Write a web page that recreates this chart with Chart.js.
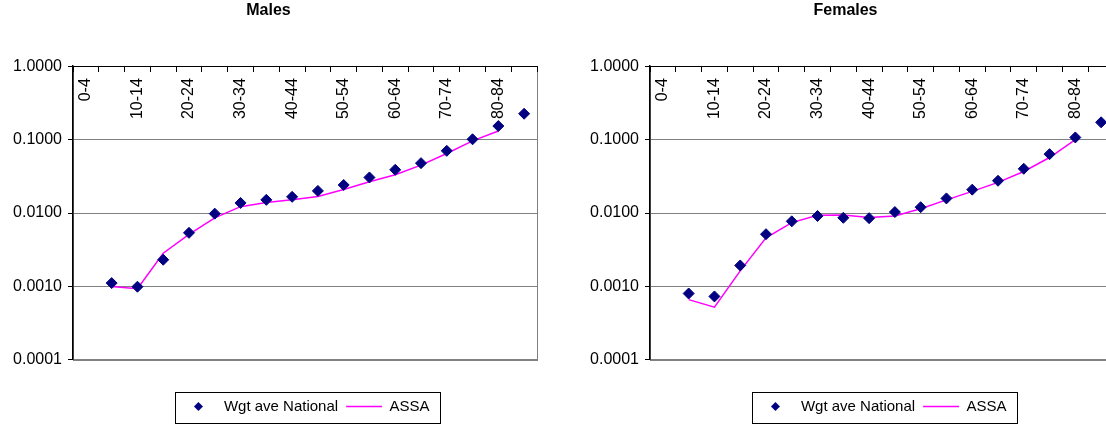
<!DOCTYPE html>
<html>
<head>
<meta charset="utf-8">
<script src="https://cdn.jsdelivr.net/npm/chart.js@4.4.1/dist/chart.umd.min.js"></script>
<style>
html,body{margin:0;padding:0;background:#fff;overflow:hidden;width:1106px;height:427px;}
.box{position:absolute;top:0;width:545px;height:427px;}
#leftBox{left:0;}
#rightBox{left:577px;}
</style>
</head>
<body>
<div class="box" id="leftBox"><canvas id="malesChart" width="545" height="427"></canvas></div>
<div class="box" id="rightBox"><canvas id="femalesChart" width="545" height="427"></canvas></div>
<script>
const ages = ["0-4","5-9","10-14","15-19","20-24","25-29","30-34","35-39","40-44","45-49","50-54","55-59","60-64","65-69","70-74","75-79","80-84","85+"];
const yTicks = [0.0001,0.001,0.01,0.1,1];

const maleNational = [null,0.00111,0.00099,0.00231,0.00537,0.0098,0.0137,0.0151,0.0166,0.0200,0.0241,0.0305,0.0388,0.0478,0.0703,0.101,0.153,0.225];
const maleASSA = [null,0.00100,0.00093,0.00283,0.0051,0.0086,0.0122,0.0139,0.0151,0.0168,0.0209,0.0266,0.0332,0.0449,0.0646,0.096,0.131,null];

const femaleNational = [null,0.00080,0.00073,0.00193,0.00514,0.0077,0.0091,0.0086,0.0085,0.0103,0.0120,0.0158,0.0208,0.0275,0.040,0.0634,0.107,0.172];
const femaleASSA = [null,0.00066,0.00052,0.00163,0.00458,0.0074,0.0093,0.0094,0.0087,0.0091,0.0114,0.0151,0.0197,0.0261,0.0368,0.057,0.100,null];

const FONT = "'Liberation Sans', Arial, sans-serif";

// little diamond used as the legend symbol
function diamondIcon(size,color){
const c = document.createElement("canvas");
c.width = size; c.height = size;
const g = c.getContext("2d");
g.fillStyle = color;
g.beginPath();
g.moveTo(size/2,0);
g.lineTo(size,size/2);
g.lineTo(size/2,size);
g.lineTo(0,size/2);
g.closePath();
g.fill();
return c;
}
const legendDiamond = diamondIcon(9,"#000080");

// grey frame round the plot area (Excel style)
const plotFrame = {
id:"plotFrame",
beforeDraw(chart){
const a = chart.chartArea, ctx = chart.ctx;
ctx.save();
ctx.strokeStyle = "#808080";
ctx.lineWidth = 1;
ctx.strokeRect(Math.round(a.left)+.5,Math.round(a.top)+.5,Math.round(a.right-a.left),Math.round(a.bottom-a.top));
ctx.restore();
}
};

// border round the legend
const legendBorder = {
id:"legendBorder",
afterDraw(chart){
const hb = chart.legend.legendHitBoxes;
if(!hb || !hb.length) return;
const first = hb[0], last = hb[hb.length-1];
const ctx = chart.ctx;
ctx.save();
ctx.strokeStyle = "#000";
ctx.lineWidth = 1;
const x = Math.round(first.left-5)+.5;
const y = Math.round(first.top-7)+.5;
const w = Math.round(last.left+last.width-first.left+16);
ctx.strokeRect(x,y,w,31);
ctx.restore();
}
};

function makeChart(id,title,national,assa){
new Chart(document.getElementById(id),{
type:"line",
data:{
labels:ages,
datasets:[{
label:"Wgt ave National",
data:national,
showLine:false,
pointStyle:"rectRot",
pointRadius:5.5,
pointHoverRadius:5.5,
backgroundColor:"#000080",
borderColor:"#000080",
borderWidth:1
},{
label:"ASSA",
data:assa,
borderColor:"#ff00ff",
backgroundColor:"#ff00ff",
borderWidth:1.5,
pointRadius:0,
tension:0,
fill:false
}]
},
options:{
responsive:false,
animation:false,
layout:{padding:{left:0,right:8,top:0,bottom:3}},
plugins:{
tooltip:{enabled:false},
title:{
display:true,
text:title,
color:"#000",
font:{family:FONT,size:16,weight:"bold"},
padding:{top:1,bottom:46}
},
legend:{
position:"bottom",
fullSize:false,
title:{display:true,text:"",padding:0,font:{size:26}},
labels:{
usePointStyle:true,
pointStyleWidth:36,
padding:8,
color:"#000",
font:{family:FONT,size:15},
generateLabels:chart=>chart.data.datasets.map((ds,i)=>({
text:ds.label,
datasetIndex:i,
pointStyle:i===0?legendDiamond:"line",
fillStyle:ds.backgroundColor,
strokeStyle:ds.borderColor,
lineWidth:i===0?0:1.5,
fontColor:"#000",
hidden:false
}))
}
}
},
scales:{
x:{
type:"category",
offset:true,
position:{y:1},
afterFit:s=>{s.paddingLeft = 0; s.paddingRight = 0;},
grid:{
offset:true,
drawOnChartArea:false,
drawTicks:true,
tickLength:5,
tickColor:"#000"
},
border:{display:true,color:"#000",width:1},
ticks:{
autoSkip:false,
minRotation:90,
maxRotation:90,
padding:7,
color:"#000",
font:{family:FONT,size:16},
callback:(v,i)=>i%2?"":ages[i]
}
},
y:{
type:"logarithmic",
min:0.0001,
max:1,
afterBuildTicks:s=>{s.ticks = yTicks.map(v=>({value:v}));},
afterFit:s=>{s.width = 73;},
grid:{color:"#808080",tickColor:"#000",tickLength:5},
border:{display:true,color:"#000",width:1.5},
ticks:{
padding:6,
color:"#000",
font:{family:FONT,size:16},
callback:v=>Number(v).toFixed(4)
}
}
}
},
plugins:[plotFrame,legendBorder]
});
}

makeChart("malesChart","Males",maleNational,maleASSA);
makeChart("femalesChart","Females",femaleNational,femaleASSA);
</script>
</body>
</html>
